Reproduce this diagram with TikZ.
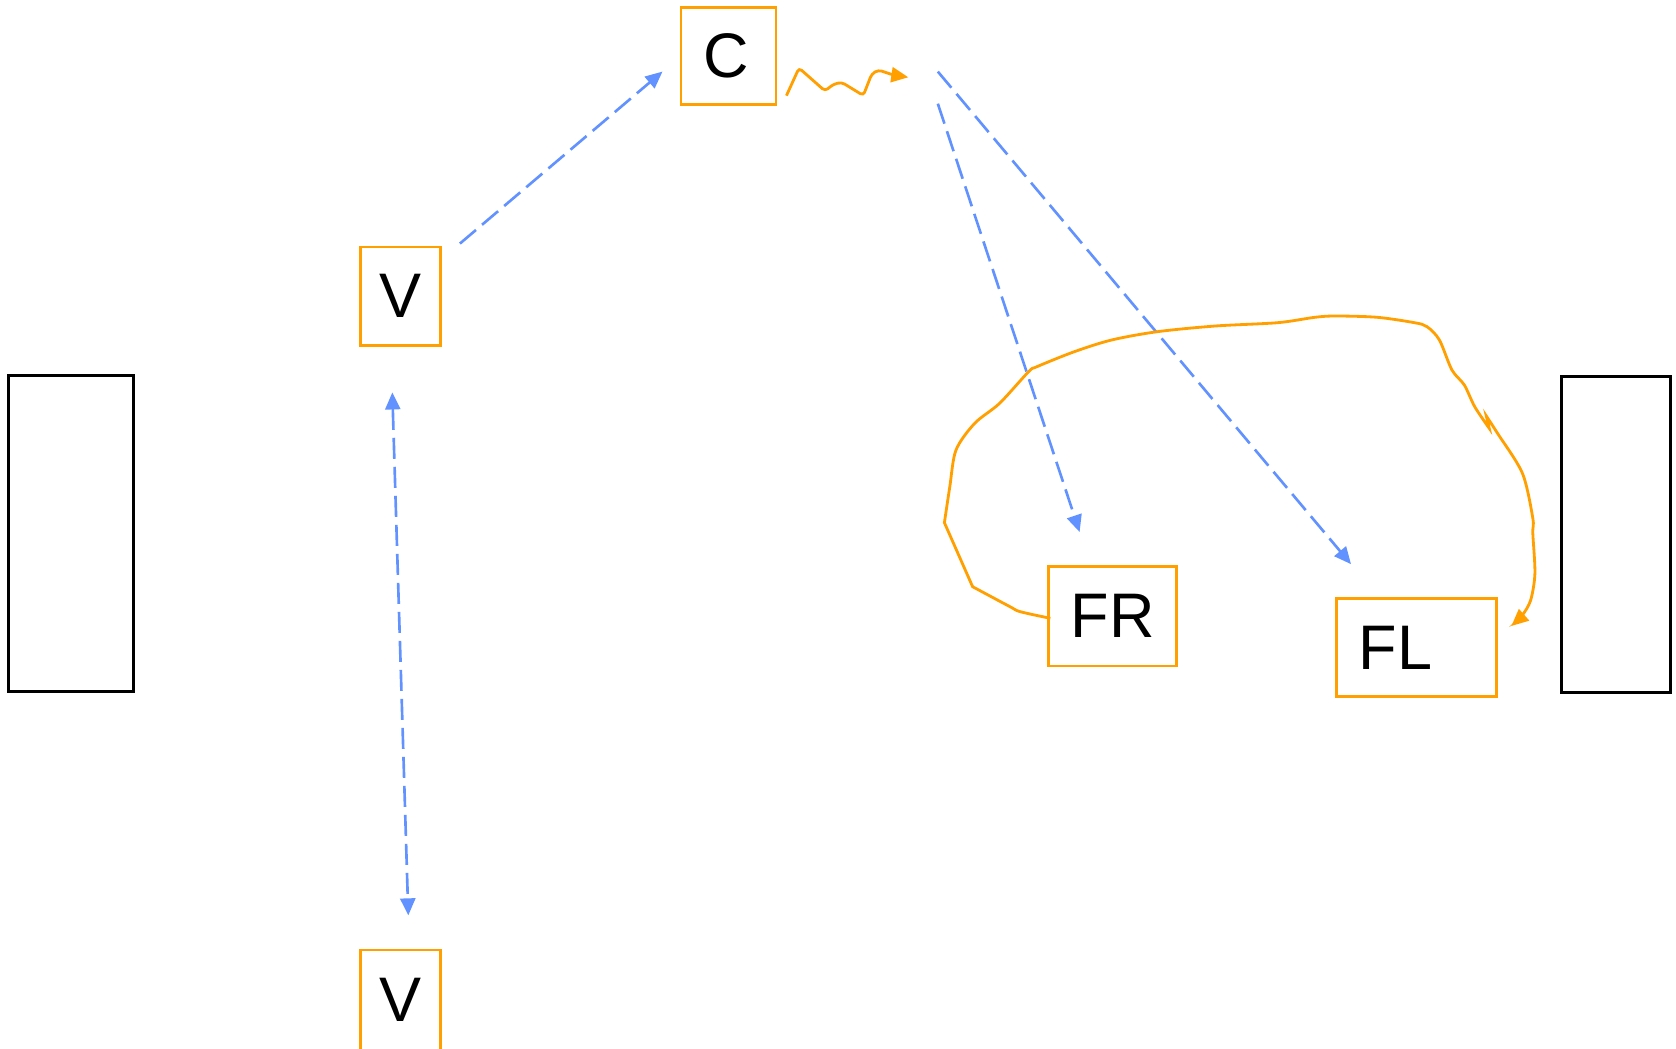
\documentclass[tikz,border=0pt]{standalone}
\usepackage{fontspec}
\setmainfont{Liberation Sans}
\usetikzlibrary{arrows.meta, calc}

\definecolor{boxorange}{RGB}{255,160,0}
\definecolor{linkblue}{RGB}{97,146,255}

\begin{document}
\begin{tikzpicture}[x=0.01cm, y=-0.01cm, >={Triangle[length=0.17cm, width=0.15cm]},
  unit/.style={draw=boxorange, line width=0.8pt, inner sep=0pt, font=\fontsize{17.9}{20}\selectfont},
  link/.style={color=linkblue, line width=0.75pt, dash pattern=on 0.21cm off 0.08cm, ->},
  flow/.style={color=boxorange, line width=0.8pt, ->}]
\useasboundingbox (0,0) rectangle (1676,1049);

% units
\node[unit, minimum width=0.95cm, minimum height=0.97cm] (C) at (728.5,56.1) {C\kern0.04cm};
\node[unit, minimum width=0.8cm, minimum height=0.98cm] (Vtop) at (400.3,296.1) {V};
\node[unit, minimum width=0.8cm, minimum height=1cm] (Vbot) at (400.3,1000) {V};
\node[unit, minimum width=1.28cm, minimum height=0.995cm] (FR) at (1112.8,616.3) {FR};
\node[unit, minimum width=1.6cm, minimum height=0.98cm] (FL) at (1416.4,647.8) {FL\kern0.42cm};

% side panels
\draw[line width=0.8pt] (8.6,375.2) rectangle (133.6,691.6);
\draw[line width=0.8pt] (1561.7,376.3) rectangle (1670.7,692.7);

% dashed links
\draw[link] ($(Vtop.north east)+(18.2,-2.1)$) -- ($(C.west)+(-17.1,15.5)$);
\draw[link, <->] ($(Vtop.south)+(-8,45.9)$) -- ($(Vbot.north)+(8,-33.2)$);
\draw[link] ($(C.east)+(160.4,47.6)$) -- ($(FR.north)+(-33.2,-33.1)$);
\draw[link] ($(C.east)+(160.4,15.5)$) -- ($(FL.north)+(-65.4,-33.2)$);

% freehand flows
\draw[flow, rounded corners=1pt] ($(C.south east)+(9,-10.4)$) -- (799,68) -- (825,91)
  -- (833.3,84.3) -- (841.7,82.3) -- (863.3,95.5) -- (871.7,74) -- (878.3,70)
  -- (893.3,75) -- (908.3,77.3);
\draw[flow] plot[smooth, tension=0.5] coordinates {($(FR.west)+(3,2)$) (1020.3,611.7) (1010,606.7) (972.6,586.7)}
  -- plot[smooth, tension=0.5] coordinates {(944.4,522.7) (949.8,486.7) (956,450) (974.7,423.3)
    (999.6,403.3) (1028.6,371.7) (1036.9,366.7) (1074.3,351.7) (1111.6,340) (1157.3,331.7)
    (1215.4,326) (1277.6,322.7) (1314.9,317.3) (1335.7,316) (1377.2,317.3) (1414.5,322.7)
    (1427,326.7) (1439.4,340) (1451.9,370) (1464.3,385) (1474.7,406.7) (1489.2,428.3)}
  -- plot[smooth, tension=0.5] coordinates {(1486.3,416) (1497.5,433.3) (1522.4,473.3)
    (1532.8,518.3) (1532.8,533.3) (1534.9,573.3) (1530.7,600) (1522.4,615)
    ($(FL.east)+(13.5,-21.8)$)};
\end{tikzpicture}
\end{document}
